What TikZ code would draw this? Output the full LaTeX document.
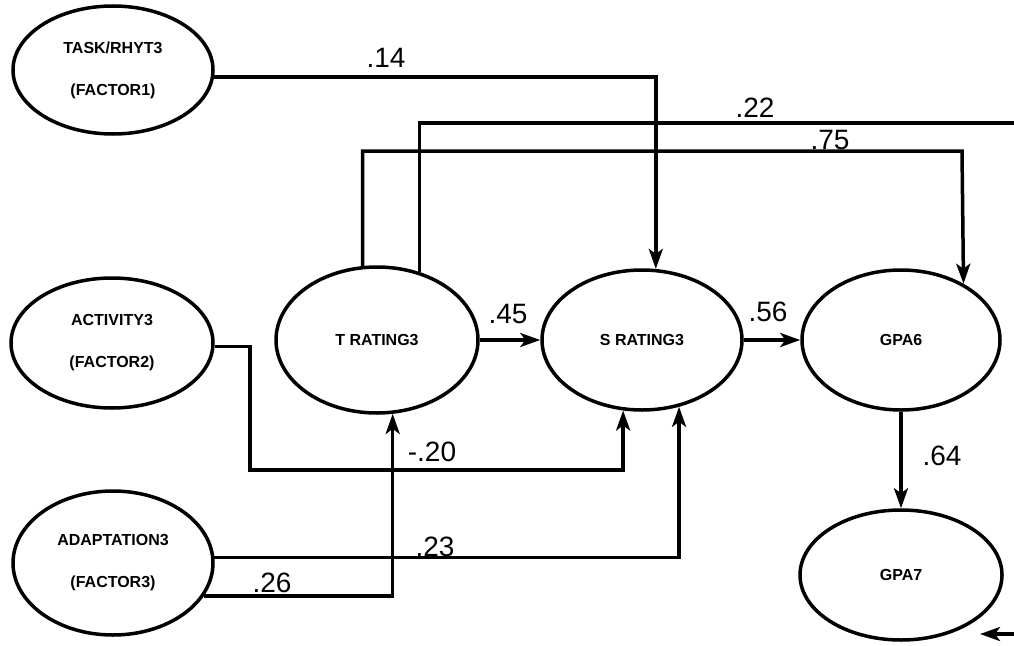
\documentclass[tikz,border=0pt]{standalone}
\usepackage{fontspec}
\setmainfont{Liberation Sans}
\usetikzlibrary{shapes.geometric,arrows.meta}
\begin{document}
\begin{tikzpicture}[x=1pt,y=-1pt,
  var/.style={draw,ellipse,line width=3.5pt,inner sep=0pt,align=center,
    font=\fontsize{16}{42}\selectfont\bfseries},
  conn/.style={line width=3.5pt},
  arr/.style={conn,-{Stealth[length=20pt,width=14pt,inset=5pt]}},
  lbl/.style={font=\fontsize{28}{30}\selectfont,inner sep=0pt}]
\useasboundingbox[fill=white] (0,0) rectangle (1014,645);
% variables
\node[var,minimum width=200pt,minimum height=128pt] (task) at (113,70) {TASK/RHYT3\\(FACTOR1)};
\node[var,minimum width=202pt,minimum height=130pt] (act) at (112,343) {ACTIVITY3\\(FACTOR2)};
\node[var,minimum width=200pt,minimum height=144pt] (adapt) at (113,563) {ADAPTATION3\\(FACTOR3)};
\node[var,minimum width=202pt,minimum height=146pt] (trat) at (377,340) {T RATING3};
\node[var,minimum width=200pt,minimum height=140pt] (srat) at (642,340) {S RATING3};
\node[var,minimum width=198pt,minimum height=140pt] (gpa6) at (901,340) {GPA6};
\node[var,minimum width=202pt,minimum height=130pt] (gpa7) at (901,575) {GPA7};
% bend points and free ends
\coordinate (k75) at (962,151);
\coordinate (k20) at (250,470);
\coordinate (e22) at (1014,123);
\coordinate (s1) at (1014,634);
\coordinate (s2) at (980,634);
% connectors
\draw[arr] (task.-4) -| (srat.79.4);
\draw[conn] (trat.58.4) |- (e22);
\draw[arr] (trat.101.7) |- (k75) -- (gpa6.42.1);
\draw[arr] (trat.east) -- (srat.west);
\draw[arr] (srat.east) -- (gpa6.west);
\draw[arr] (gpa6.south) -- (gpa7.north);
\draw[arr] (act.-2) -| (k20) -| (srat.-105.5);
\draw[arr] (adapt.3) -| (srat.-61.1);
\draw[arr] (adapt.-20) -| (trat.-78.3);
\draw[arr] (s1) -- (s2);
% labels
\node[lbl] (l14) at (386,58) {.14};
\node[lbl] (l22) at (755,108) {.22};
\node[lbl] (l75) at (830,140) {.75};
\node[lbl] (l45) at (508,314) {.45};
\node[lbl] (l56) at (768,312) {.56};
\node[lbl] (l20) at (432,452) {-.20};
\node[lbl] (l23) at (435,547) {.23};
\node[lbl] (l26) at (272,583) {.26};
\node[lbl] (l64) at (942,456) {.64};
\end{tikzpicture}
\end{document}
